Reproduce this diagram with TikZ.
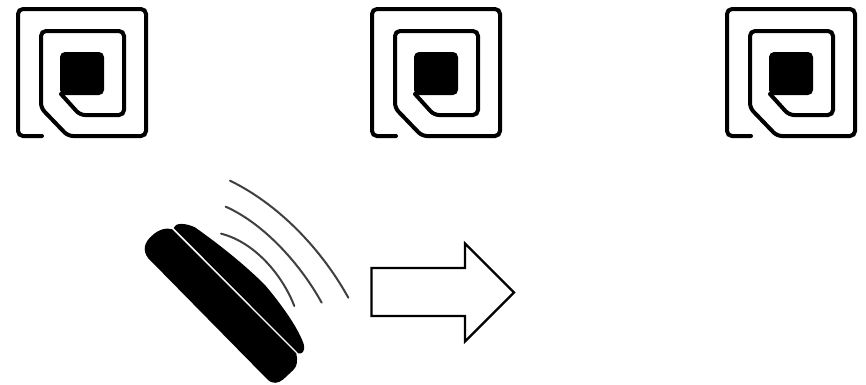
\documentclass[tikz,border=0pt]{standalone}
\tikzset{
  tagline/.style={line width=4pt,black,rounded corners=5pt,line cap=round},
  wave/.style={line width=2pt,black!75,line cap=round},
  pics/rfidtag/.style={code={
    \draw[tagline] (42,136) -- (18,136) -- (18,9) -- (146,9) -- (146,136) -- (68,136) -- (41,108) -- (41,31) -- (124,31) -- (124,115) -- (80,115) -- (61,94);
    \fill[rounded corners=5pt] (60,52) rectangle (104,95);
  }}
}
\begin{document}
\begin{tikzpicture}[x=1pt,y=-1pt]
\useasboundingbox (0,0) rectangle (866,384);
\fill[white] (0,0) rectangle (866,384);
\pic at (0,0) {rfidtag};
\pic at (354,0) {rfidtag};
\pic at (709,0) {rfidtag};
\begin{scope}[shift={(130,170)},x=0.3333pt,y=-0.3333pt]
  % handset body
  \fill (127,178) .. controls (110,172) and (85,178) .. (65,198)
     .. controls (45,215) and (35,240) .. (55,265)
     -- (412,628) .. controls (428,644) and (445,640) .. (460,628)
     -- (490,600) .. controls (503,588) and (503,570) .. (499,550) -- cycle;
  % handset cap
  \fill (131,174) .. controls (135,158) and (165,158) .. (195,172)
     .. controls (270,225) and (345,285) .. (405,345)
     .. controls (460,410) and (508,480) .. (522,525)
     .. controls (525,545) and (516,553) .. (505,550) -- cycle;
  % waves
  \draw[wave] (300,32) .. controls (440,100) and (570,230) .. (655,383);
  \draw[wave] (287,110) .. controls (400,160) and (510,280) .. (575,398);
  \draw[wave] (273,191) .. controls (370,215) and (455,310) .. (493,408);
\end{scope}
% arrow
\draw[line width=2.2pt,miter limit=10,fill=white] (371.5,268) -- (465,268) -- (465,243.5) -- (514,292.5) -- (465,341.5) -- (465,316) -- (371.5,316) -- cycle;
\end{tikzpicture}
\end{document}
